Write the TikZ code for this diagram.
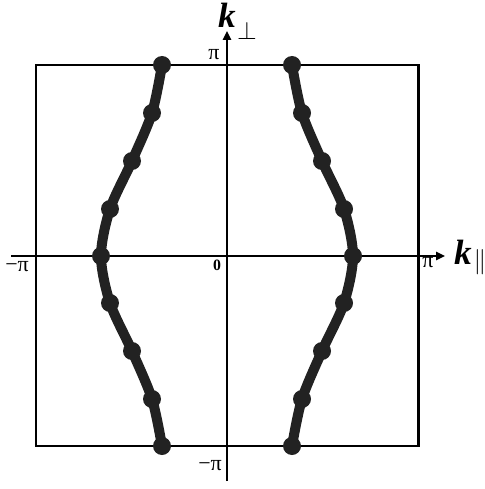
\documentclass[tikz,border=0pt]{standalone}
\usepackage{fontspec}
\setmainfont{Liberation Serif}
\usepackage{tikz}
\usetikzlibrary{arrows.meta}

\definecolor{bandgray}{HTML}{222222}

\tikzset{
    axisline/.style={line width=1.7pt, black},
    axisarrow/.style={axisline, -{Triangle[length=5pt, width=4.5pt]}},
    bandline/.style={line width=5.7pt, bandgray, line cap=round},
    banddot/.style={circle, fill=bandgray, inner sep=0pt, minimum size=0.36cm},
    ticklabel/.style={font=\fontsize{12.5}{14}\selectfont, inner sep=0pt},
    axislabel/.style={font=\fontsize{20}{24}\selectfont\bfseries\itshape, inner sep=0pt},
}

\begin{document}
\begin{tikzpicture}[x=0.02cm, y=-0.02cm]
\useasboundingbox (0,0) rectangle (484,489);

% Brillouin zone frame
\draw[axisline] (36,65) rectangle (418,446);

% Axes
\coordinate (xstart) at (11,256);
\coordinate (xend) at (445,256);
\coordinate (ystart) at (227,481);
\coordinate (yend) at (227,31);
\draw[axisarrow] (xstart) -- (xend);
\draw[axisarrow] (ystart) -- (yend);

% Tick labels
\node[ticklabel] (pitop) at (214,55) {π};
\node[ticklabel] (pibottom) at (210,466) {−π};
\node[ticklabel] (pileft) at (17,267) {−π};
\node[ticklabel] (piright) at (428,263) {π};
\node[ticklabel, font=\fontsize{9}{10}\selectfont\bfseries] (origin) at (217,265) {0};

% Axis labels
\node[axislabel] (kperp) at (227,15) {k};
\node[inner sep=0pt, font=\fontsize{14}{16}\selectfont] (kperpsub) at (247,31) {$\perp$};
\node[axislabel] (kpar) at (463,252) {k};
\node[inner sep=0pt, font=\fontsize{14}{16}\selectfont] (kparsub) at (480,262) {$\parallel$};

% Fermi surface sample points
\foreach \n/\x/\y in {1/162/65, 2/152/113, 3/132/161, 4/110/209, 5/101/256,
                      6/110/303, 7/132/351, 8/152/399, 9/162/446} {
    \coordinate (l\n) at (\x,\y);
    \coordinate (r\n) at ({454-\x},\y);
}

% Fermi surface lines
\draw[bandline] plot[smooth] coordinates {(l1) (l2) (l3) (l4) (l5) (l6) (l7) (l8) (l9)};
\draw[bandline] plot[smooth] coordinates {(r1) (r2) (r3) (r4) (r5) (r6) (r7) (r8) (r9)};

\foreach \n in {1,...,9} {
    \node[banddot] (dl\n) at (l\n) {};
    \node[banddot] (dr\n) at (r\n) {};
}

\end{tikzpicture}
\end{document}
